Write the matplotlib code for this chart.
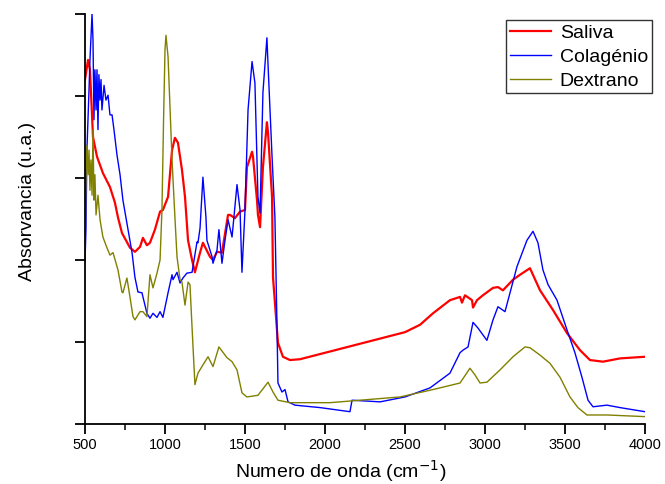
import numpy as np
import matplotlib
matplotlib.use("Agg")
import matplotlib.pyplot as plt
from matplotlib.ticker import MultipleLocator

plt.rcParams['font.family'] = ['Liberation Sans', 'DejaVu Sans']

# FTIR spectra (wavenumber in cm-1, absorbance in arbitrary units)
saliva_wn = [500, 519, 531, 550, 575, 612, 656, 687, 706, 731, 781, 812, 844, 862, 887, 906,
             937, 969, 987, 1019, 1044, 1062, 1081, 1106, 1125, 1144, 1169, 1187, 1219, 1237,
             1281, 1300, 1325, 1356, 1394, 1406, 1437, 1469, 1500, 1512, 1544, 1550, 1575, 1581,
             1594, 1612, 1637, 1644, 1669, 1675, 1706, 1737, 1781, 1844, 2500, 2594, 2675, 2781,
             2844, 2856, 2875, 2919, 2925, 2950, 2987, 3050, 3081, 3112, 3175, 3219, 3281, 3344,
             3425, 3512, 3594, 3656, 3737, 3844, 4000]
saliva_abs = [4.20, 4.44, 4.32, 3.50, 3.26, 3.06, 2.89, 2.70, 2.52, 2.33, 2.15, 2.10, 2.16, 2.27,
              2.18, 2.21, 2.37, 2.59, 2.61, 2.77, 3.34, 3.49, 3.43, 3.10, 2.77, 2.24, 2.00, 1.85,
              2.09, 2.21, 2.04, 2.00, 2.10, 2.09, 2.55, 2.55, 2.51, 2.59, 2.61, 3.13, 3.32, 3.26,
              2.73, 2.55, 2.40, 3.13, 3.68, 3.55, 2.77, 1.79, 0.99, 0.82, 0.78, 0.79, 1.12, 1.21,
              1.35, 1.51, 1.55, 1.48, 1.57, 1.51, 1.42, 1.51, 1.57, 1.66, 1.67, 1.63, 1.76, 1.82,
              1.90, 1.63, 1.39, 1.11, 0.90, 0.78, 0.76, 0.80, 0.82]

colagenio_wn = [500, 506, 512, 525, 531, 544, 550, 556, 562, 569, 575, 581, 587, 594, 600, 606,
                619, 631, 644, 656, 669, 681, 700, 719, 737, 769, 794, 812, 831, 856, 887, 906,
                925, 950, 969, 987, 1019, 1044, 1050, 1075, 1094, 1112, 1137, 1169, 1200, 1206,
                1219, 1237, 1256, 1262, 1294, 1300, 1325, 1337, 1356, 1375, 1394, 1419, 1450, 1469,
                1481, 1500, 1519, 1544, 1562, 1581, 1594, 1612, 1637, 1644, 1669, 1687, 1700, 1706,
                1731, 1750, 1769, 1812, 1969, 2156, 2169, 2344, 2500, 2656, 2781, 2844, 2862, 2894,
                2925, 2956, 3012, 3050, 3081, 3125, 3200, 3262, 3300, 3331, 3362, 3394, 3450, 3512,
                3562, 3606, 3644, 3675, 3762, 3844, 4000]
colagenio_abs = [1.98, 2.37, 3.34, 4.07, 4.44, 5.00, 4.68, 3.71, 4.32, 3.83, 4.32, 3.59, 4.26,
                 3.95, 4.20, 3.83, 4.13, 3.95, 4.01, 3.77, 3.77, 3.59, 3.28, 3.04, 2.73, 2.37,
                 2.09, 1.79, 1.61, 1.60, 1.35, 1.29, 1.35, 1.30, 1.37, 1.30, 1.60, 1.82, 1.76,
                 1.85, 1.72, 1.78, 1.84, 1.85, 2.22, 2.21, 2.39, 3.01, 2.52, 2.24, 2.04, 1.96,
                 2.12, 2.37, 1.96, 2.24, 2.49, 2.28, 2.92, 2.61, 1.85, 2.61, 3.83, 4.42, 4.16,
                 2.77, 2.57, 4.04, 4.71, 4.38, 3.26, 2.52, 1.18, 0.50, 0.39, 0.42, 0.27, 0.23,
                 0.20, 0.15, 0.29, 0.27, 0.33, 0.44, 0.62, 0.87, 0.90, 0.94, 1.24, 1.17, 1.02,
                 1.27, 1.43, 1.37, 1.92, 2.24, 2.35, 2.21, 1.88, 1.70, 1.51, 1.15, 0.87, 0.57,
                 0.29, 0.21, 0.23, 0.20, 0.15]

dextrano_wn = [500, 506, 512, 519, 525, 531, 537, 544, 550, 556, 562, 569, 581, 594, 612, 637,
               656, 675, 706, 731, 737, 762, 781, 800, 812, 844, 862, 887, 906, 925, 950, 969,
               981, 991, 1000, 1006, 1019, 1044, 1062, 1075, 1094, 1106, 1125, 1144, 1156, 1169,
               1187, 1206, 1237, 1269, 1300, 1337, 1387, 1419, 1450, 1481, 1512, 1581, 1644, 1675,
               1706, 1781, 2031, 2469, 2675, 2844, 2906, 2937, 2969, 3012, 3094, 3175, 3250, 3281,
               3344, 3406, 3469, 3531, 3581, 3637, 3762, 4000]
dextrano_abs = [2.00, 2.98, 3.40, 3.04, 3.34, 2.85, 3.22, 2.79, 3.59, 2.73, 3.04, 2.55, 2.79,
                2.49, 2.28, 2.15, 2.06, 2.09, 1.88, 1.61, 1.60, 1.78, 1.55, 1.31, 1.27, 1.37,
                1.37, 1.31, 1.82, 1.66, 1.84, 2.00, 2.61, 3.71, 4.56, 4.74, 4.48, 3.22, 2.52,
                2.04, 1.76, 1.73, 1.45, 1.73, 1.70, 1.18, 0.48, 0.62, 0.72, 0.82, 0.70, 0.94,
                0.81, 0.76, 0.66, 0.38, 0.33, 0.35, 0.51, 0.39, 0.29, 0.26, 0.26, 0.33, 0.42,
                0.50, 0.68, 0.60, 0.50, 0.51, 0.66, 0.82, 0.94, 0.93, 0.84, 0.74, 0.57, 0.33,
                0.20, 0.11, 0.11, 0.09]

fig = plt.figure(figsize=(6.65, 4.84), dpi=100)
ax = fig.add_axes([85/665, 1-424/484, 560/665, 410/484])

ax.plot(saliva_wn, saliva_abs, color='#ff0000', lw=1.6, label='Saliva')
ax.plot(colagenio_wn, colagenio_abs, color='#0000ff', lw=1.0, label='Colagénio')
ax.plot(dextrano_wn, dextrano_abs, color='#808000', lw=1.0, label='Dextrano')

ax.set_xlim(500, 4000)
ax.set_ylim(0, 5)
ax.spines['top'].set_visible(False)
ax.spines['right'].set_visible(False)
for s in ['left', 'bottom']:
    ax.spines[s].set_linewidth(1.3)

ax.xaxis.set_major_locator(MultipleLocator(500))
ax.xaxis.set_minor_locator(MultipleLocator(250))
ax.set_yticks([0, 1, 2, 3, 4, 5])
ax.set_yticklabels([])
ax.tick_params(axis='both', which='major', direction='out', length=7, width=1.3,
               labelsize=10.5, pad=3)
ax.tick_params(axis='x', which='minor', direction='out', length=4, width=1.1)

ax.set_xlabel('Numero de onda (cm$^{-1}$)', fontsize=14)
ax.set_ylabel('Absorvancia (u.a.)', fontsize=14)
ax.xaxis.set_label_coords(0.457, -0.082)
ax.yaxis.set_label_coords(-0.088, 0.544)

leg = ax.legend(loc='upper right', bbox_to_anchor=(652/665, 1-20/484),
                bbox_transform=fig.transFigure, fontsize=14, frameon=True,
                fancybox=False, edgecolor='black', borderaxespad=0,
                handlelength=2.1, handletextpad=0.45, labelspacing=0.33,
                borderpad=0.2, handleheight=0.7)
leg.get_frame().set_linewidth(1.0)

fig.savefig('out.png', dpi=100)
